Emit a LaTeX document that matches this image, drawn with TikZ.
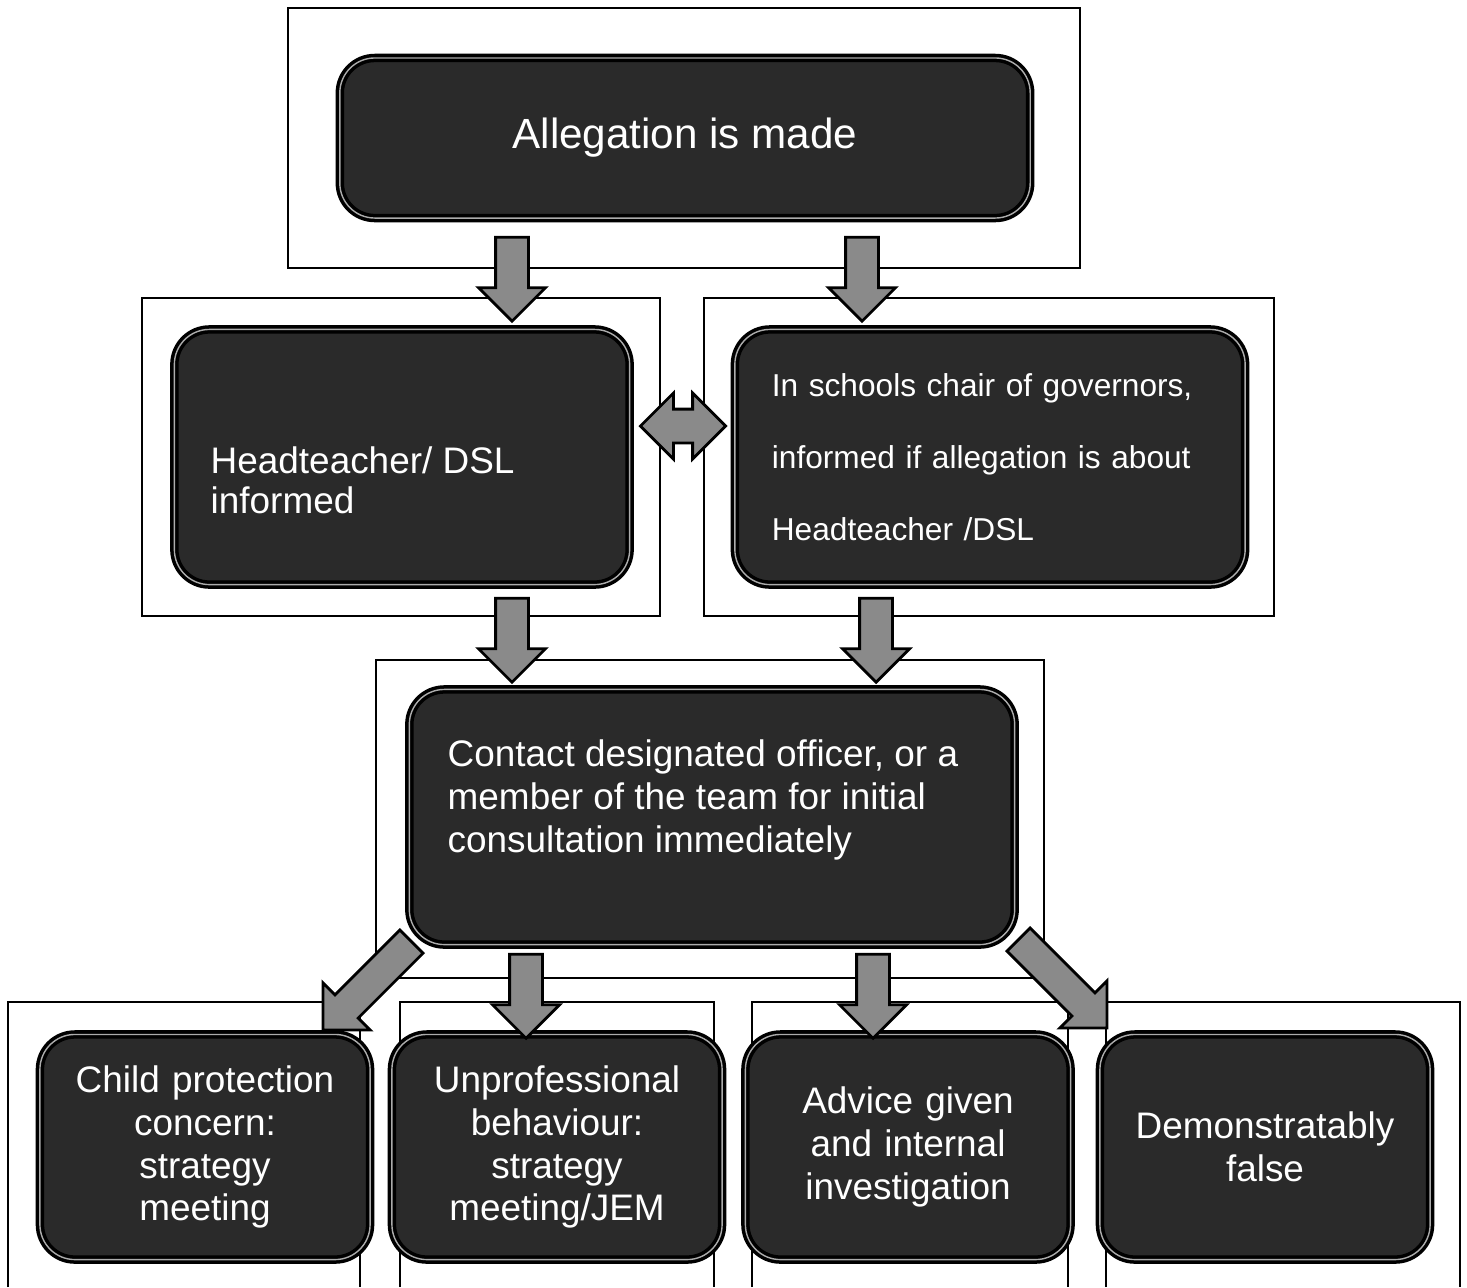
\documentclass[tikz,border=0pt]{standalone}
\usepackage{fontspec}
\setmainfont{Liberation Sans}
\usetikzlibrary{shapes.arrows}

\definecolor{boxfill}{HTML}{2A2A2A}
\definecolor{arrowfill}{HTML}{8A8A8A}

\begin{document}
\begin{tikzpicture}[x = 0.01cm, y = -0.01cm,
        panel/.style = {draw = black, line width = 0.5pt},
        darkbox/.style = {draw = black, line width = 1pt, double = gray!65, double distance = 0.4pt,
            fill = boxfill, rounded corners = 0.35cm, text = white, inner sep = 0pt},
        boxtext/.style = {text = white, inner sep = 0pt},
        blockarrow/.style = {single arrow, draw = black, line width = 0.8pt, fill = arrowfill,
            inner xsep = 0pt, inner ysep = 0.15cm, single arrow head extend = 0.17cm, minimum height = 0.84cm},
        twoway/.style = {double arrow, draw = black, line width = 0.8pt, fill = arrowfill,
            inner xsep = 0pt, inner ysep = 0.155cm, double arrow head extend = 0.16cm, minimum height = 0.85cm}]

        \useasboundingbox (0, 0) rectangle (1467, 1287);

        % Thin frames round each step.
        \draw[panel] (288, 8) rectangle (1080, 268);
        \draw[panel] (142, 298) rectangle (660, 616);
        \draw[panel] (704, 298) rectangle (1274, 616);
        \draw[panel] (376, 660) rectangle (1044, 978);
        \draw[panel] (8, 1287) |- (360, 1002) -- (360, 1287);
        \draw[panel] (400, 1287) |- (714, 1002) -- (714, 1287);
        \draw[panel] (752, 1287) |- (1068, 1002) -- (1068, 1287);
        \draw[panel] (1106, 1287) |- (1460, 1002) -- (1460, 1287);

        % The allegation.
        \node[darkbox, minimum width = 6.9cm, minimum height = 1.6cm, font = \fontsize{12}{14}\selectfont]
            (alleg) at (685, 138) {Allegation is made};

        % Who is informed.
        \node[darkbox, minimum width = 4.55cm, minimum height = 2.55cm] (head) at (402, 457) {};
        \node[boxtext, anchor = west, align = left, font = \fontsize{10.5}{11.4}\selectfont]
            (headtext) at (210, 480) {Headteacher/ DSL\\informed};
        \node[darkbox, minimum width = 5.1cm, minimum height = 2.55cm, inner xsep = 0.37cm,
            text width = 4.36cm, align = left, font = \fontsize{9}{20.4}\selectfont]
            (chair) at (990, 457) {In schools chair of governors,\\informed if allegation is about\\Headteacher /DSL};

        % Consultation.
        \node[darkbox, minimum width = 6.05cm, minimum height = 2.55cm] (contact) at (712, 817) {};
        \node[boxtext, anchor = west, align = left, font = \fontsize{10.5}{12.2}\selectfont]
            (contacttext) at (447, 800) {Contact designated officer, or a\\member of the team for initial\\consultation immediately};

        % The four outcomes.
        \node[darkbox, minimum width = 3.3cm, minimum height = 2.25cm, text width = 3.1cm, align = center,
            font = \fontsize{10.5}{12.2}\selectfont] (cp) at (205, 1147) {Child protection\\concern:\\strategy\\meeting};
        \node[darkbox, minimum width = 3.3cm, minimum height = 2.25cm, text width = 3.1cm, align = center,
            font = \fontsize{10.5}{12.2}\selectfont] (unprof) at (557, 1147) {Unprofessional\\behaviour:\\strategy\\meeting/JEM};
        \node[darkbox, minimum width = 3.25cm, minimum height = 2.25cm, text width = 3.1cm, align = center,
            font = \fontsize{10.5}{12.2}\selectfont] (advice) at (908, 1147) {Advice given\\and internal\\investigation};
        \node[darkbox, minimum width = 3.3cm, minimum height = 2.25cm, text width = 3.1cm, align = center,
            font = \fontsize{10.5}{12.2}\selectfont] (false) at (1265, 1147) {Demonstratably\\false};

        % Block arrows between the steps.
        \node[blockarrow, rotate = -90] (arrowA) at (512, 271) {};
        \node[blockarrow, rotate = -90] (arrowB) at (862, 271) {};
        \node[twoway] (arrowC) at (683, 426) {};
        \node[blockarrow, rotate = -90] (arrowD) at (512, 632) {};
        \node[blockarrow, rotate = -90] (arrowE) at (876, 632) {};
        \node[blockarrow, rotate = -135, minimum height = 1.25cm] (arrowF) at (373, 980) {};
        \node[blockarrow, rotate = -90] (arrowG) at (526, 988) {};
        \node[blockarrow, rotate = -90] (arrowH) at (873, 988) {};
        \node[blockarrow, rotate = -45, minimum height = 1.25cm] (arrowI) at (1057, 978) {};
    \end{tikzpicture}
\end{document}
